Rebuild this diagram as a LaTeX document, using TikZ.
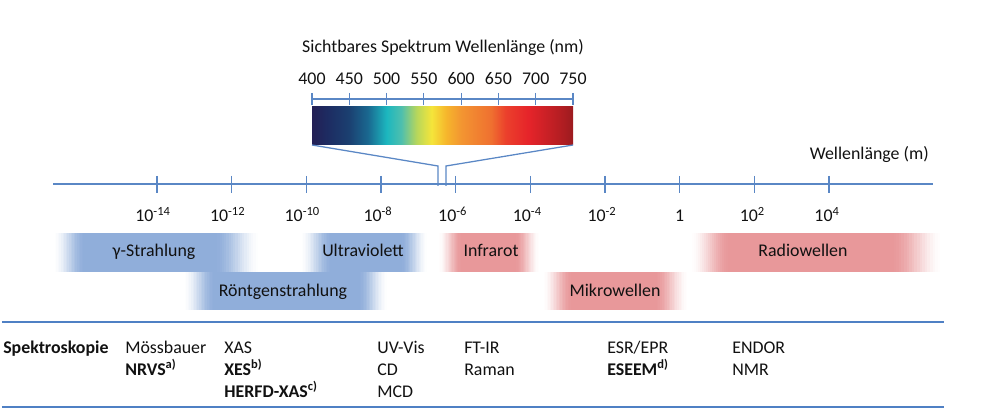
\documentclass[tikz,border=0pt]{standalone}
\usepackage{fontspec}
\setmainfont{Carlito}
\usetikzlibrary{calc}
\definecolor{axisblue}{HTML}{5A87C5}
\definecolor{tableblue}{HTML}{4F80C4}
\definecolor{bandblue}{HTML}{90AEDA}
\definecolor{bandred}{HTML}{E8989A}
\definecolor{txt}{HTML}{111111}
\definecolor{sp1}{HTML}{231F55}
\definecolor{sp2}{HTML}{1D2C62}
\definecolor{sp3}{HTML}{1B3F70}
\definecolor{sp4}{HTML}{1A6890}
\definecolor{sp5}{HTML}{1CB7BF}
\definecolor{sp6}{HTML}{4EBFAE}
\definecolor{sp7}{HTML}{B6D65C}
\definecolor{sp8}{HTML}{F5E53A}
\definecolor{sp9}{HTML}{F6B62C}
\definecolor{sp10}{HTML}{F39531}
\definecolor{sp11}{HTML}{EF7030}
\definecolor{sp12}{HTML}{EB402C}
\definecolor{sp13}{HTML}{E6242A}
\definecolor{sp14}{HTML}{B81E23}
\definecolor{sp15}{HTML}{9C1B1F}
\pgfdeclarehorizontalshading{spectrum}{100bp}{color(0bp)=(sp1); color(25bp)=(sp1); color(28bp)=(sp2); color(32bp)=(sp3); color(35.7bp)=(sp4); color(39.3bp)=(sp5); color(42.1bp)=(sp6); color(45bp)=(sp7); color(47.9bp)=(sp8); color(50.7bp)=(sp9); color(53.6bp)=(sp10); color(59.3bp)=(sp11); color(62.1bp)=(sp12); color(66.4bp)=(sp13); color(72.1bp)=(sp14); color(75bp)=(sp15); color(100bp)=(sp15)}
\newcommand{\bandshade}[7]{%
  \fill[#7] ({#1+#5},#3) rectangle ({#2-#6},#4);
  \foreach \kk in {0,...,19}{
    \pgfmathsetmacro{\fadeT}{(\kk+0.5)/20}
    \pgfmathsetmacro{\fadeP}{100*(3*\fadeT*\fadeT-2*\fadeT*\fadeT*\fadeT)}
    \fill[#7!\fadeP!white] ({#1+#5*\kk/20},#3) rectangle ({#1+#5*(\kk+1)/20+0.3},#4);
    \fill[#7!\fadeP!white] ({#2-#6*(\kk+1)/20-0.3},#3) rectangle ({#2-#6*\kk/20},#4);
  }}
\begin{document}
\begin{tikzpicture}[x=0.025cm,y=-0.025cm,
  every node/.style={font=\fontsize{12.7}{15}\selectfont, text=txt, inner sep=0pt},
  axisline/.style={axisblue, line width=0.9pt},
  tableline/.style={tableblue, line width=1.4pt},
  lbl/.style={anchor=base},
  cell/.style={anchor=base west}]
\useasboundingbox (0,0) rectangle (1000,413);

% visible spectrum
\node[lbl] (title) at (443,53) {Sichtbares Spektrum Wellenlänge (nm)};
\coordinate (scL) at (312,99);
\coordinate (scR) at (573,99);
\draw[axisline] (scL) -- (scR);
\foreach \i/\v in {0/400,1/450,2/500,3/550,4/600,5/650,6/700,7/750}{
  \draw[axisline] ({312+37.286*\i},93) -- ({312+37.286*\i},105);
  \node[lbl] (nm\v) at ({312+37.286*\i},85) {\v};
}
\shade[shading=spectrum] (312,107) rectangle (573,145);
\coordinate (specSW) at (312,145);
\coordinate (specSE) at (573,145);
\coordinate (zA) at (438,186);
\coordinate (zB) at (446,186);
\draw[axisline] (specSW) -- ($(zA)+(0,-20)$) -- (zA);
\draw[axisline] (specSE) -- ($(zB)+(0,-20)$) -- (zB);

% main axis
\coordinate (axL) at (53,184);
\coordinate (axR) at (933,184);
\draw[axisline] (axL) -- (axR);
\foreach \i/\lab/\dx in {0/{10\textsuperscript{-14}}/-4,1/{10\textsuperscript{-12}}/-4,2/{10\textsuperscript{-10}}/-4,3/{10\textsuperscript{-8}}/-3,4/{10\textsuperscript{-6}}/-3,5/{10\textsuperscript{-4}}/-3,6/{10\textsuperscript{-2}}/-3,7/{1}/0,8/{10\textsuperscript{2}}/-2,9/{10\textsuperscript{4}}/-2}{
  \draw[axisline] ({157+74.67*\i},176) -- ({157+74.67*\i},193);
  \node[lbl] (t\i) at ({157+74.67*\i+\dx},222) {\lab};
}
\node[anchor=base east] (wl) at (929,160) {Wellenlänge (m)};

% bands
\bandshade{53}{260}{233}{272}{32}{45}{bandblue}
\bandshade{300}{428}{233}{272}{32}{27}{bandblue}
\bandshade{183}{388}{272}{310}{32}{30}{bandblue}
\bandshade{438}{540}{233}{272}{24}{25}{bandred}
\bandshade{542}{689}{272}{310}{30}{34}{bandred}
\bandshade{690}{943}{233}{272}{40}{52}{bandred}
\node[lbl] (gamma) at (154,257) {γ-Strahlung};
\node[lbl] (uv) at (363,257) {Ultraviolett};
\node[lbl] (xray) at (283,296) {Röntgenstrahlung};
\node[lbl] (ir) at (491,257) {Infrarot};
\node[lbl] (mw) at (615,296) {Mikrowellen};
\node[lbl] (radio) at (803,257) {Radiowellen};

% table
\coordinate (tlA) at (2,322);
\coordinate (trA) at (944,322);
\coordinate (tlB) at (2,407);
\coordinate (trB) at (944,407);
\draw[tableline] (tlA) -- (trA);
\draw[tableline] (tlB) -- (trB);
\node[cell] (spk) at (3,353) {\textbf{Spektroskopie}};
\node[cell] (c1a) at (125,353) {Mössbauer};
\node[cell] (c1b) at (125,375) {\textbf{NRVS\textsuperscript{a)}}};
\node[cell] (c2a) at (224,353) {XAS};
\node[cell] (c2b) at (224,375) {\textbf{XES\textsuperscript{b)}}};
\node[cell] (c2c) at (224,397) {\textbf{HERFD-XAS\textsuperscript{c)}}};
\node[cell] (c3a) at (377,353) {UV-Vis};
\node[cell] (c3b) at (377,375) {CD};
\node[cell] (c3c) at (377,397) {MCD};
\node[cell] (c4a) at (464,353) {FT-IR};
\node[cell] (c4b) at (464,375) {Raman};
\node[cell] (c5a) at (607,353) {ESR/EPR};
\node[cell] (c5b) at (607,375) {\textbf{ESEEM\textsuperscript{d)}}};
\node[cell] (c6a) at (732,353) {ENDOR};
\node[cell] (c6b) at (732,375) {NMR};
\end{tikzpicture}
\end{document}
